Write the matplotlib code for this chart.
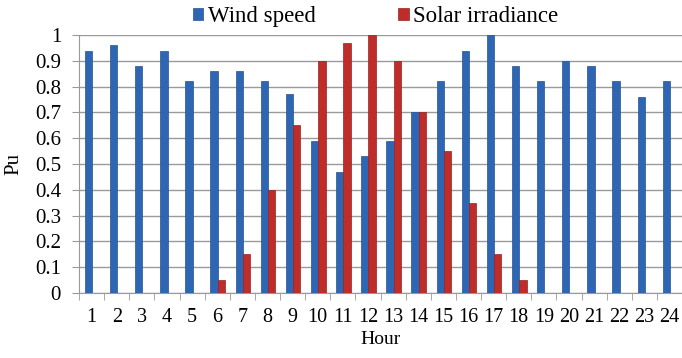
import numpy as np
import matplotlib.pyplot as plt
from matplotlib.ticker import FixedLocator, NullFormatter

hours = list(range(1, 25))
wind = [0.94, 0.96, 0.88, 0.94, 0.82, 0.86, 0.86, 0.82, 0.77, 0.59, 0.47, 0.53,
        0.59, 0.70, 0.82, 0.94, 1.00, 0.88, 0.82, 0.90, 0.88, 0.82, 0.76, 0.82]
solar = [0, 0, 0, 0, 0, 0.05, 0.15, 0.40, 0.65, 0.90, 0.97, 1.00,
         0.90, 0.70, 0.55, 0.35, 0.15, 0.05, 0, 0, 0, 0, 0, 0]
yticks = [0, 0.1, 0.2, 0.3, 0.4, 0.5, 0.6, 0.7, 0.8, 0.9, 1]
ytick_labels = ["0", "0.1", "0.2", "0.3", "0.4", "0.5", "0.6", "0.7", "0.8", "0.9", "1"]

plt.rcParams["font.family"] = ["Liberation Serif", "DejaVu Serif"]
BLUE, RED = "#2f66b3", "#be2d2a"

fig = plt.figure(figsize=(6.82, 3.58), dpi=100)
ax = fig.add_axes([0.116, 0.182, 0.884, 0.72])

x = np.array(hours)
w = 0.29
ax.bar(x - w / 2 + 0.02, wind, w, color=BLUE, edgecolor="#245294", lw=0.5,
       label="Wind speed", zorder=3)
ax.bar(x + w / 2 + 0.02, solar, w, color=RED, edgecolor="#962220", lw=0.5,
       label="Solar irradiance", zorder=3)

ax.set_xlim(0.5, 24.5)
ax.set_ylim(0, 1)
ax.set_yticks(yticks)
ax.set_yticklabels(ytick_labels)
ax.set_xticks(hours)
ax.set_xticklabels([str(h) for h in hours])
ax.xaxis.set_minor_locator(FixedLocator(np.arange(0.5, 25, 1)))
ax.xaxis.set_minor_formatter(NullFormatter())
ax.tick_params(axis="x", which="major", length=0, pad=11, labelsize=14.5)
ax.tick_params(axis="x", which="minor", length=5, color="#999999")
ax.tick_params(axis="y", length=5, color="#999999", pad=8, labelsize=15)
ax.grid(axis="y", color="#9a9a9a", lw=1.0, zorder=0)

for s in ["top", "right"]:
    ax.spines[s].set_visible(False)
for s in ["left", "bottom"]:
    ax.spines[s].set_color("#999999")

ax.set_xlabel("Hour", fontsize=14, labelpad=3)
ax.set_ylabel("Pu", fontsize=15, labelpad=8)

fig.legend(*ax.get_legend_handles_labels(), loc="center",
           bbox_to_anchor=(0.551, 0.953), ncol=2, frameon=False,
           fontsize=16.5, handlelength=0.45, handleheight=0.45, handletextpad=0.2,
           columnspacing=3.6, borderaxespad=0, borderpad=0)

fig.savefig("out.png", dpi=100)
